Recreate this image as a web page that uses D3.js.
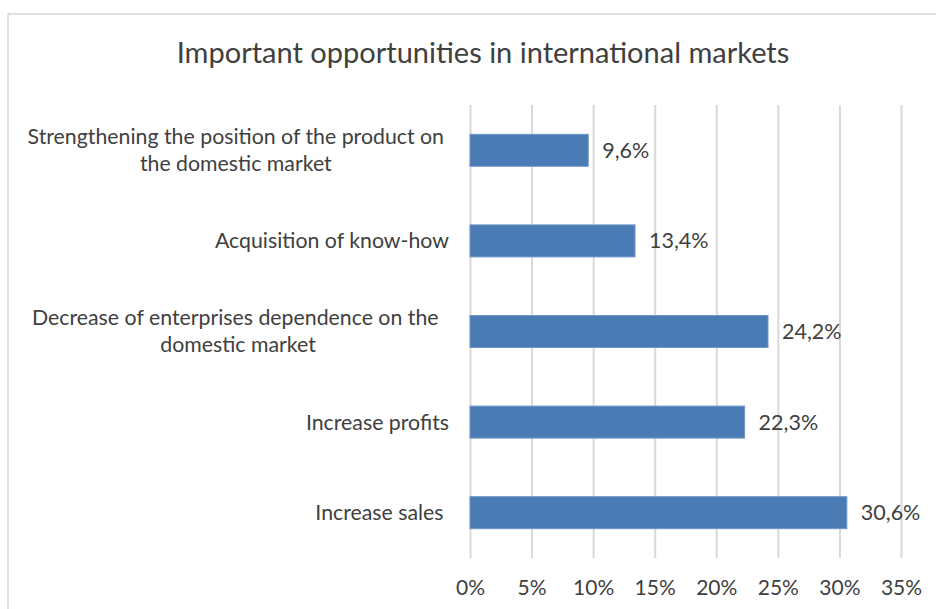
<!DOCTYPE html>
<html>
<head>
<meta charset="utf-8">
<script src="https://cdn.jsdelivr.net/npm/d3@7"></script>
<style>
  html, body { margin: 0; padding: 0; background: #fff; }
  svg { display: block; }
  text { font-family: Lato, "Open Sans", sans-serif; fill: #404040; }
</style>
</head>
<body>
<svg id="chart" width="936" height="609"></svg>
<script>
// Share of respondents naming each opportunity (top to bottom)
const categories = [
  ["Strengthening the position of the product on", "the domestic market"],
  ["Acquisition of know-how"],
  ["Decrease of enterprises dependence on the ", "domestic market"],
  ["Increase profits"],
  ["Increase sales "]
];
const values = [0.096, 0.134, 0.242, 0.223, 0.306];
const xTicks = [0, 0.05, 0.10, 0.15, 0.20, 0.25, 0.30, 0.35];
const title = "Important opportunities in international markets";

const svg = d3.select("#chart");
const W = 936, H = 609;

// chart-area frame
svg.append("rect")
  .attr("x", 8).attr("y", 14)
  .attr("width", W + 10).attr("height", H + 10)
  .attr("fill", "#fff").attr("stroke", "#d9d9d9").attr("stroke-width", 1.6);

const plot = { left: 470, right: 901, top: 105, bottom: 558 };

const x = d3.scaleLinear().domain([0, 0.35]).range([plot.left, plot.right]);
const y = d3.scaleBand()
  .domain(d3.range(categories.length))
  .range([plot.top, plot.bottom])
  .paddingInner(0.647).paddingOuter(0.3235);

// vertical gridlines and percent tick labels
const xAxis = d3.axisBottom(x)
  .tickValues(xTicks)
  .tickFormat(d3.format(".0%"))
  .tickSizeInner(-(plot.bottom - plot.top))
  .tickSizeOuter(0)
  .tickPadding(22);

const gx = svg.append("g")
  .attr("transform", `translate(0,${plot.bottom})`)
  .call(xAxis);
gx.select(".domain").remove();
gx.selectAll(".tick line").attr("stroke", "#d9d9d9").attr("stroke-width", 2);
gx.selectAll(".tick text")
  .attr("font-size", 21).attr("fill", "#404040")
  .style("font-family", "Lato, 'Open Sans', sans-serif");

// bars
svg.append("g").selectAll("rect")
  .data(values)
  .join("rect")
  .attr("x", x(0))
  .attr("y", (d, i) => y(i))
  .attr("width", d => x(d) - x(0))
  .attr("height", y.bandwidth())
  .attr("fill", "#4a7bb5")
  .attr("stroke", "#6f95c6").attr("stroke-width", 1);

// value labels with decimal comma
const locale = d3.formatLocale({ decimal: ",", thousands: " ", grouping: [3], currency: ["", ""] });
const fmt = locale.format(".1%");
svg.append("g").selectAll("text")
  .data(values)
  .join("text")
  .attr("x", d => x(d) + 14)
  .attr("y", (d, i) => y(i) + y.bandwidth() / 2)
  .attr("dy", "0.35em")
  .attr("font-size", 21.5)
  .text(d => fmt(d));

// category labels: single lines right-aligned, wrapped labels centred as a block
const labelRight = 449;
const blockRight = 444;
const lineH = 27;
const lg = svg.append("g");
categories.forEach((lines, i) => {
  const cy = y(i) + y.bandwidth() / 2;
  const t = lg.append("text")
    .attr("font-size", 21.3)
    .style("white-space", "pre");
  lines.forEach((ln, k) => {
    t.append("tspan")
      .attr("y", cy + (k - (lines.length - 1) / 2) * lineH)
      .attr("dy", "0.35em")
      .text(ln);
  });
  const spans = t.selectAll("tspan").nodes();
  const maxW = d3.max(spans, n => n.getComputedTextLength());
  if (lines.length > 1) {
    t.attr("text-anchor", "middle");
    t.selectAll("tspan").attr("x", blockRight - maxW / 2);
  } else {
    t.attr("text-anchor", "end");
    t.selectAll("tspan").attr("x", labelRight);
  }
});

// title
svg.append("text")
  .attr("x", 483).attr("y", 53)
  .attr("dy", "0.35em")
  .attr("text-anchor", "middle")
  .attr("font-size", 29)
  .attr("fill", "#1a1a1a")
  .text(title);
</script>
</body>
</html>
